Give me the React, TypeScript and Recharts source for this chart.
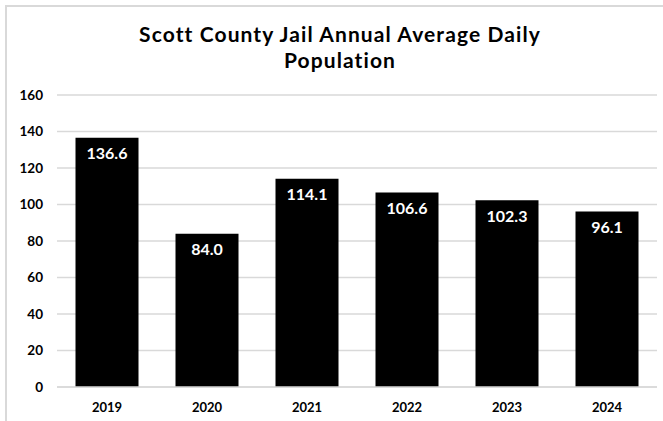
import React from "react";
import { BarChart, Bar, XAxis, YAxis, CartesianGrid, LabelList } from "recharts";

const years = ["2019", "2020", "2021", "2022", "2023", "2024"];
const population = [136.6, 84.0, 114.1, 106.6, 102.3, 96.1];
const yTicks = [0, 20, 40, 60, 80, 100, 120, 140, 160];

const data = years.map((y, i) => ({ year: y, value: population[i] }));

const FONT = "'Lato', 'DejaVu Sans', sans-serif";

export default function App() {
  return (
    <div style={{ position: "absolute", left: 0, top: 0, width: 663, height: 421, background: "#fff" }}>
      <div
        style={{
          position: "absolute",
          left: 5,
          top: 5,
          width: 660,
          height: 420,
          borderLeft: "2px solid #d9d9d9",
          borderTop: "2px solid #d9d9d9",
        }}
      />
      <div
        style={{
          position: "absolute",
          left: 0,
          top: 21,
          width: 680,
          textAlign: "center",
          fontFamily: FONT,
          fontWeight: 700,
          fontSize: 21,
          letterSpacing: "1.1px",
          lineHeight: "26px",
          color: "#000",
        }}
      >
        Scott County Jail Annual Average Daily
        <br />
        Population
      </div>
      <div style={{ position: "absolute", left: 0, top: 0 }}>
        <BarChart
          width={663}
          height={421}
          data={data}
          margin={{ top: 95, right: 6, bottom: 0, left: 0 }}
          barCategoryGap="18.5%"
        >
          <CartesianGrid horizontal vertical={false} stroke="#d9d9d9" strokeWidth={1.5} />
          <XAxis
            dataKey="year"
            axisLine={{ stroke: "#d9d9d9", strokeWidth: 1.5 }}
            tickLine={false}
            tickMargin={10}
            tick={{ fill: "#000", fontSize: 13, fontWeight: 700, fontFamily: FONT }}
            height={34}
          />
          <YAxis
            domain={[0, 160]}
            ticks={yTicks}
            axisLine={false}
            tickLine={false}
            tickMargin={8}
            width={57}
            interval={0}
            tick={{ fill: "#000", fontSize: 13.5, fontWeight: 700, fontFamily: FONT }}
          />
          <Bar dataKey="value" fill="#000" isAnimationActive={false}>
            <LabelList
              dataKey="value"
              position="insideTop"
              offset={10}
              formatter={(v: number) => v.toFixed(1)}
              style={{ fill: "#fff", fontSize: 16, fontWeight: 700, fontFamily: FONT }}
            />
          </Bar>
        </BarChart>
      </div>
    </div>
  );
}
